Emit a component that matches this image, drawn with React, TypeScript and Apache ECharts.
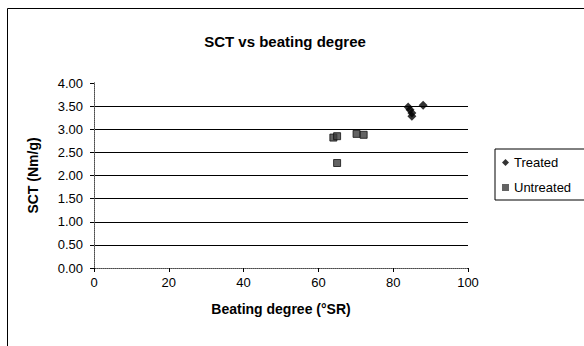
import React, { useEffect, useRef } from "react";
import * as echarts from "echarts";

const titleText = "SCT vs beating degree";
const xAxisTitle = "Beating degree (°SR)";
const yAxisTitle = "SCT (Nm/g)";
const seriesNames = ["Treated", "Untreated"];

const treatedX = [84, 84.5, 85, 85, 88];
const treatedY = [3.48, 3.42, 3.35, 3.28, 3.52];
const untreatedX = [64, 65, 70.2, 72.1, 65];
const untreatedY = [2.82, 2.85, 2.9, 2.88, 2.27];

const xMin = 0, xMax = 100, xStep = 20;
const yMin = 0, yMax = 4, yStep = 0.5;

const FONT = "'Liberation Sans', Arial, sans-serif";

export default function App() {
  const ref = useRef<HTMLDivElement>(null);
  useEffect(() => {
    if (!ref.current) return;
    const chart = echarts.init(ref.current, null, { renderer: "svg" });
    const nLines = Math.round((yMax - yMin) / yStep) + 1;
    const splitColors: string[] = [];
    for (let i = 0; i < nLines; i++) splitColors.push(i === nLines - 1 ? "rgba(0,0,0,0)" : "#000");
    chart.setOption({
      animation: false,
      backgroundColor: "#fff",
      textStyle: { fontFamily: FONT },
      title: {
        text: titleText,
        left: 280,
        textAlign: "center",
        top: 29,
        textStyle: { fontFamily: FONT, fontSize: 15, fontWeight: "bold", color: "#000" },
      },
      grid: { left: 94, right: 116, top: 83, bottom: 78 },
      legend: {
        orient: "vertical",
        left: 495,
        top: 149,
        padding: [7, 30, 6, 7],
        itemWidth: 7,
        itemHeight: 7,
        itemGap: 12,
        borderColor: "#000",
        borderWidth: 1,
        itemStyle: { borderWidth: 0 },
        textStyle: { fontFamily: FONT, fontSize: 13, color: "#000" },
        data: [
          { name: seriesNames[0], icon: "diamond" },
          { name: seriesNames[1], icon: "rect" },
        ],
      },
      xAxis: [
        {
          type: "value",
          min: xMin,
          max: xMax,
          interval: xStep,
          name: xAxisTitle,
          nameLocation: "middle",
          nameGap: 34,
          nameTextStyle: { fontFamily: FONT, fontSize: 14, fontWeight: "bold", color: "#000" },
          axisLine: { show: true, lineStyle: { color: "#000", width: 1 } },
          axisTick: { show: true, inside: false, length: 4, lineStyle: { color: "#000" } },
          axisLabel: { margin: 8, fontFamily: FONT, fontSize: 13, color: "#000" },
          splitLine: { show: false },
        },
        {
          type: "value",
          position: "top",
          min: xMin,
          max: xMax,
          interval: xStep,
          axisLine: { show: true, lineStyle: { color: "#777", width: 1, type: "dotted" } },
          axisTick: { show: false },
          axisLabel: { show: false },
          splitLine: { show: false },
        },
      ],
      yAxis: [
        {
          type: "value",
          min: yMin,
          max: yMax,
          interval: yStep,
          name: yAxisTitle,
          nameLocation: "middle",
          nameGap: 54,
          nameTextStyle: { fontFamily: FONT, fontSize: 14, fontWeight: "bold", color: "#000" },
          axisLine: { show: true, lineStyle: { color: "#000", width: 1 } },
          axisTick: { show: true, inside: false, length: 4, lineStyle: { color: "#000" } },
          axisLabel: {
            margin: 11,
            fontFamily: FONT,
            fontSize: 13,
            color: "#000",
            formatter: (v: number) => v.toFixed(2),
          },
          splitLine: { show: true, lineStyle: { color: splitColors, width: 1 } },
        },
        {
          type: "value",
          position: "right",
          min: yMin,
          max: yMax,
          interval: yStep,
          axisLine: { show: true, lineStyle: { color: "#777", width: 1, type: "dotted" } },
          axisTick: { show: false },
          axisLabel: { show: false },
          splitLine: { show: false },
        },
      ],
      graphic: [
        {
          type: "rect",
          shape: { x: 7.5, y: 8.5, width: 640, height: 400 },
          style: { fill: "none", stroke: "#000", lineWidth: 1 },
          silent: true,
        },
      ],
      series: [
        {
          name: seriesNames[0],
          type: "scatter",
          symbol: "diamond",
          symbolSize: 9,
          itemStyle: { color: "#000" },
          data: treatedX.map((x, i) => [x, treatedY[i]]),
        },
        {
          name: seriesNames[1],
          type: "scatter",
          symbol: "rect",
          symbolSize: 7,
          itemStyle: { color: "#3c3c3c", borderColor: "#111", borderWidth: 1 },
          data: untreatedX.map((x, i) => [x, untreatedY[i]]),
        },
      ],
    });
    return () => chart.dispose();
  }, []);
  return (
    <div
      ref={ref}
      style={{ position: "fixed", left: 0, top: 0, width: 584, height: 346 }}
    />
  );
}
